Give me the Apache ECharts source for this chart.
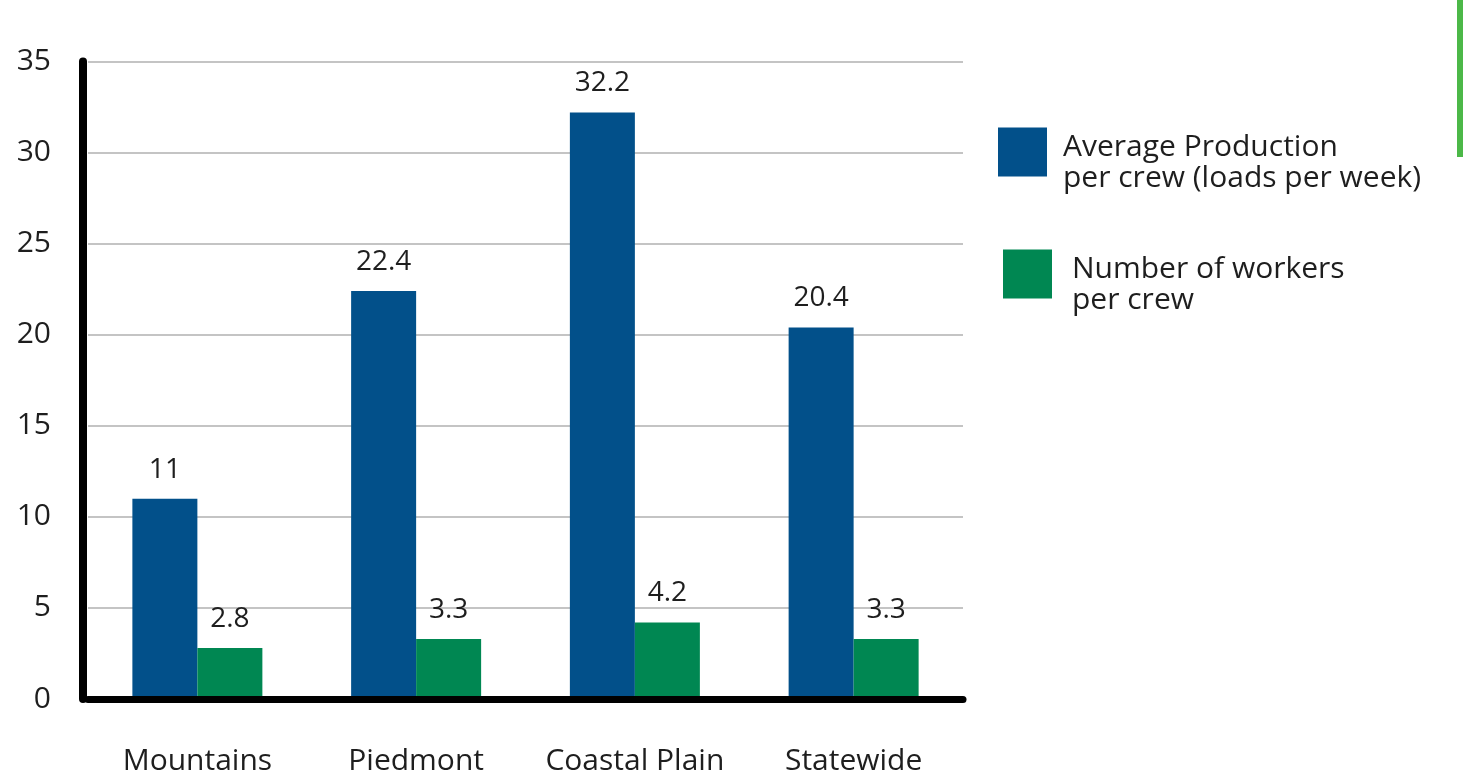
<!DOCTYPE html>
<html>
<head>
<meta charset="utf-8">
<script src="https://cdn.jsdelivr.net/npm/echarts@6/dist/echarts.min.js"></script>
<style>html,body{margin:0;padding:0;background:#fff;}#c{width:1463px;height:776px;}</style>
</head>
<body>
<div id="c"></div>
<script>
const categories = ['Mountains', 'Piedmont', 'Coastal Plain', 'Statewide'];
const productionValues = [11, 22.4, 32.2, 20.4];
const workersValues = [2.8, 3.3, 4.2, 3.3];
const productionName = 'Average Production per crew (loads per week)';
const workersName = 'Number of workers per crew';
const productionLegend = ['Average Production', 'per crew (loads per week)'];
const workersLegend = ['Number of workers', 'per crew'];

const FONT = '"Open Sans", "Noto Sans", sans-serif';
const TXT = '#1e1e1e';
const chart = echarts.init(document.getElementById('c'), null, {renderer: 'canvas'});

function legendText(lines) {
  return '{sp| }\n' + lines.map(l => '{t|' + l + '}').join('\n');
}
const legendRich = {
  sp: {fontSize: 1, lineHeight: 22},
  t: {fontFamily: FONT, fontSize: 30, lineHeight: 31, color: TXT}
};

chart.setOption({
  backgroundColor: '#ffffff',
  animation: false,
  grid: {left: 88, right: 500, top: 61.5, bottom: 76, containLabel: false},
  xAxis: {
    type: 'category',
    data: categories,
    z: 5,
    axisLine: {show: true, lineStyle: {color: '#000', width: 7}},
    axisTick: {show: false},
    axisLabel: {interval: 0, fontFamily: FONT, fontSize: 30, color: TXT, margin: 47}
  },
  yAxis: {
    type: 'value',
    min: 0, max: 35, interval: 5,
    offset: 5,
    axisLine: {show: true, lineStyle: {color: '#000', width: 8}},
    axisTick: {show: false},
    axisLabel: {fontFamily: FONT, fontSize: 30, color: TXT, margin: 32},
    splitLine: {show: true, lineStyle: {color: '#c4c4c4', width: 2}}
  },
  legend: [
    {
      data: [productionName], left: 998, top: 120.5, padding: 0, orient: 'vertical',
      itemWidth: 49, itemHeight: 49, icon: 'rect', selectedMode: false,
      formatter: () => legendText(productionLegend),
      textStyle: {fontFamily: FONT, fontSize: 30, color: TXT, padding: [0, 0, 0, 11], rich: legendRich}
    },
    {
      data: [workersName], left: 1003, top: 242.5, padding: 0, orient: 'vertical',
      itemWidth: 49, itemHeight: 49, icon: 'rect', selectedMode: false,
      formatter: () => legendText(workersLegend),
      textStyle: {fontFamily: FONT, fontSize: 30, color: TXT, padding: [0, 0, 0, 15], rich: legendRich}
    }
  ],
  graphic: [
    {type: 'rect', right: 0, top: 0, shape: {width: 6, height: 157}, style: {fill: '#4cb848'}}
  ],
  series: [
    {
      name: productionName, type: 'bar', data: productionValues,
      barWidth: 65, barGap: '0%',
      itemStyle: {color: '#02508a'},
      label: {show: true, position: 'top', distance: 15, fontFamily: FONT, fontSize: 28, color: TXT}
    },
    {
      name: workersName, type: 'bar', data: workersValues,
      barWidth: 65, barGap: '0%',
      itemStyle: {color: '#008752'},
      label: {show: true, position: 'top', distance: 15, fontFamily: FONT, fontSize: 28, color: TXT}
    }
  ]
});
</script>
</body>
</html>
